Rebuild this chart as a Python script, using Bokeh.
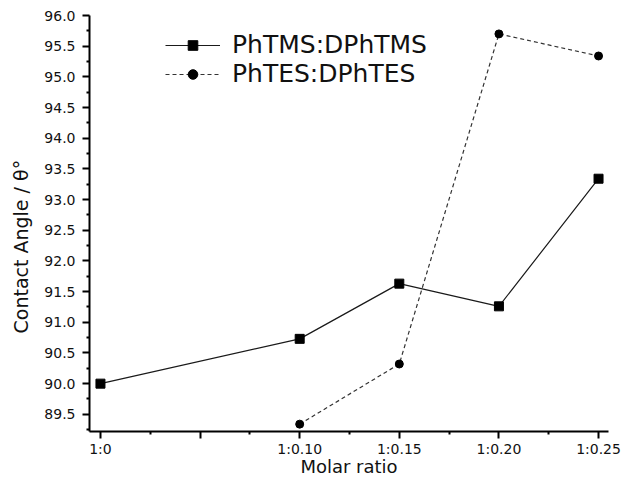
from bokeh.plotting import figure
from bokeh.models import FixedTicker, Range1d, Legend, LegendItem, NumeralTickFormatter, Title
from bokeh.embed import file_html
from bokeh.resources import INLINE

# Data
tms_x = [0.0, 0.10, 0.15, 0.20, 0.25]
tms_y = [90.0, 90.73, 91.63, 91.26, 93.34]
tes_x = [0.10, 0.15, 0.20, 0.25]
tes_y = [89.34, 90.32, 95.70, 95.34]
x_ticks = [0.0, 0.05, 0.10, 0.15, 0.20, 0.25]
x_tick_labels = ["1:0", "", "1:0.10", "1:0.15", "1:0.20", "1:0.25"]
x_minor = [0.025, 0.075, 0.125, 0.175, 0.225]
y_ticks = [89.5, 90.0, 90.5, 91.0, 91.5, 92.0, 92.5, 93.0, 93.5, 94.0, 94.5, 95.0, 95.5, 96.0]
y_minor = [89.25, 89.75, 90.25, 90.75, 91.25, 91.75, 92.25, 92.75, 93.25, 93.75, 94.25, 94.75, 95.25, 95.75]
series_names = ["PhTMS:DPhTMS", "PhTES:DPhTES"]
x_title = "Molar ratio"
y_title = "Contact Angle / θ°"

FONT = "DejaVu Sans"

p = figure(width=633, height=479, output_backend="svg", toolbar_location=None,
           x_range=Range1d(-0.0055, 0.255), y_range=Range1d(89.22, 96.0),
           min_border_left=89, min_border_right=25, min_border_top=15, min_border_bottom=48)
p.outline_line_color = None
p.xgrid.visible = False
p.ygrid.visible = False
p.background_fill_color = "white"
p.border_fill_color = "white"

l1 = p.line(tms_x, tms_y, line_color="#1a1a1a", line_width=1.2)
s1 = p.scatter(tms_x, tms_y, marker="square", size=9, fill_color="black", line_color="black")
l2 = p.line(tes_x, tes_y, line_color="#333333", line_width=1.2, line_dash="4 3")
s2 = p.scatter(tes_x, tes_y, marker="circle", size=8, fill_color="black", line_color="black")

# axes
xa = p.xaxis[0]
xa.ticker = FixedTicker(ticks=x_ticks, minor_ticks=x_minor)
xa.major_label_overrides = {t: lab for t, lab in zip(x_ticks, x_tick_labels)}
xa.axis_label = x_title
ya = p.yaxis[0]
ya.ticker = FixedTicker(ticks=y_ticks, minor_ticks=y_minor)
ya.formatter = NumeralTickFormatter(format="0.0")
for ax in (xa, ya):
    ax.axis_line_width = 2
    ax.axis_line_color = "black"
    ax.major_tick_line_width = 2
    ax.minor_tick_line_width = 2
    ax.major_tick_in = 0
    ax.major_tick_out = 7
    ax.minor_tick_in = 0
    ax.minor_tick_out = 3
    ax.major_label_text_font = FONT
    ax.major_label_text_font_size = "14px"
    ax.major_label_text_color = "#111111"
    ax.axis_label_text_font = FONT
    ax.axis_label_text_font_size = "18px"
    ax.axis_label_text_font_style = "normal"
    ax.axis_label_text_color = "#111111"
xa.major_label_standoff = 2
xa.axis_label_standoff = -4
ya.major_label_standoff = 7

# y axis title, as a side title so it can sit a little below the frame centre
ytitle = Title(text=y_title, align="left", offset=98, standoff=16,
               vertical_align="top",
               text_font=FONT, text_font_size="19px", text_font_style="normal",
               text_color="#111111")
p.add_layout(ytitle, "left")

legend = Legend(items=[LegendItem(label=series_names[0], renderers=[l1, s1]),
                       LegendItem(label=series_names[1], renderers=[l2, s2])],
                location=(76, 343))
legend.glyph_width = 55
legend.glyph_height = 24
legend.label_height = 24
legend.spacing = -2
legend.padding = 0
legend.margin = 0
legend.label_standoff = 12
legend.label_text_font = FONT
legend.label_text_font_size = "25px"
legend.label_text_color = "#111111"
legend.border_line_alpha = 0
legend.background_fill_alpha = 0
p.add_layout(legend)

open("out.html", "w").write(file_html(p, INLINE))
